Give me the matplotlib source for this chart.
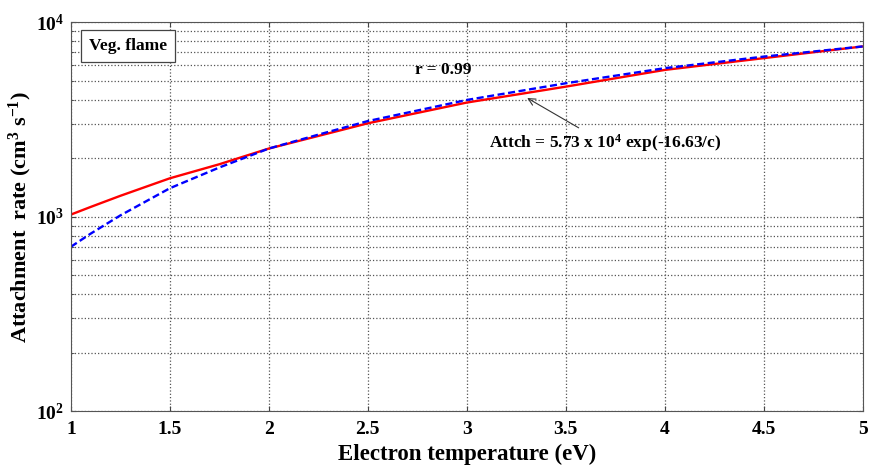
import numpy as np
import matplotlib
matplotlib.use('Agg')
import matplotlib.pyplot as plt
from matplotlib.ticker import LogLocator, NullFormatter, FixedLocator

plt.rcParams['font.family'] = 'Liberation Serif'
plt.rcParams['font.weight'] = 'bold'
plt.rcParams['mathtext.fontset'] = 'custom'
plt.rcParams['mathtext.rm'] = 'Liberation Serif:bold'
plt.rcParams['mathtext.bf'] = 'Liberation Serif:bold'
plt.rcParams['mathtext.it'] = 'Liberation Serif:bold'

# electron temperature (eV)
temp = [1.0, 1.1, 1.25, 1.5, 1.75, 2.0, 2.25, 2.5, 3.0, 3.5, 4.0, 4.5, 5.0]
# measured attachment rate (red) and fitted curve (blue dashed)
rate_meas = [1025, 1122, 1280, 1575, 1860, 2240, 2600, 3020, 3860, 4660, 5680, 6530, 7500]
rate_fit = [700, 818, 1015, 1400, 1790, 2240, 2640, 3100, 3980, 4850, 5800, 6650, 7500]

x_ticks = [1, 1.5, 2, 2.5, 3, 3.5, 4, 4.5, 5]
x_ticklabels = ['1', '1.5', '2', '2.5', '3', '3.5', '4', '4.5', '5']

fig = plt.figure(figsize=(8.75, 4.71), dpi=100)
ax = fig.add_axes([0.081, 0.127, 0.905, 0.826])

ax.plot(temp, rate_meas, color='red', lw=1.7)
ax.plot(temp, rate_fit, color='blue', lw=1.7, ls=(0, (3, 1.5)))

ax.set_yscale('log')
ax.set_xlim(1, 5)
ax.set_ylim(1e2, 1e4)
ax.xaxis.set_major_locator(FixedLocator(x_ticks))
ax.set_xticklabels(x_ticklabels)
ax.yaxis.set_major_locator(LogLocator(base=10))
ax.yaxis.set_minor_locator(LogLocator(base=10, subs=np.arange(2, 10)))
ax.yaxis.set_minor_formatter(NullFormatter())

ax.grid(True, which='major', ls=':', color='#555555', lw=0.9)
ax.grid(True, which='minor', axis='y', ls=':', color='#555555', lw=0.9)
ax.tick_params(which='both', direction='in', top=True, right=True,
               labelsize=14, colors='#444444', labelcolor='black')
ax.tick_params(axis='x', pad=7)
ax.tick_params(axis='y', pad=5)
ax.tick_params(axis='y', which='minor', length=2)
for s in ax.spines.values():
    s.set_color('#555555')
    s.set_linewidth(0.8)

ax.set_xlabel('Electron temperature (eV)', fontsize=16.5, fontweight='bold', labelpad=4)
ax.set_ylabel('Attachment  rate (cm$^3$ s$^{-1}$)', fontsize=16, fontweight='bold', labelpad=1)

ax.text(1.09, 7550, 'Veg. flame', fontsize=12.5, fontweight='bold', va='center',
        bbox=dict(boxstyle='square,pad=0.45', fc='white', ec='#444444', lw=0.9))
ax.text(2.74, 5690, 'r = 0.99', fontsize=12.5, fontweight='bold', va='center')
ax.annotate('Attch = 5.73 x 10$^4$ exp(-16.63/c)', xy=(3.293, 4140), xytext=(3.697, 2393),
            fontsize=12.5, fontweight='bold', ha='center', va='center',
            arrowprops=dict(arrowstyle='->', color='#333333', lw=0.8))

fig.savefig('out.png', dpi=100)
